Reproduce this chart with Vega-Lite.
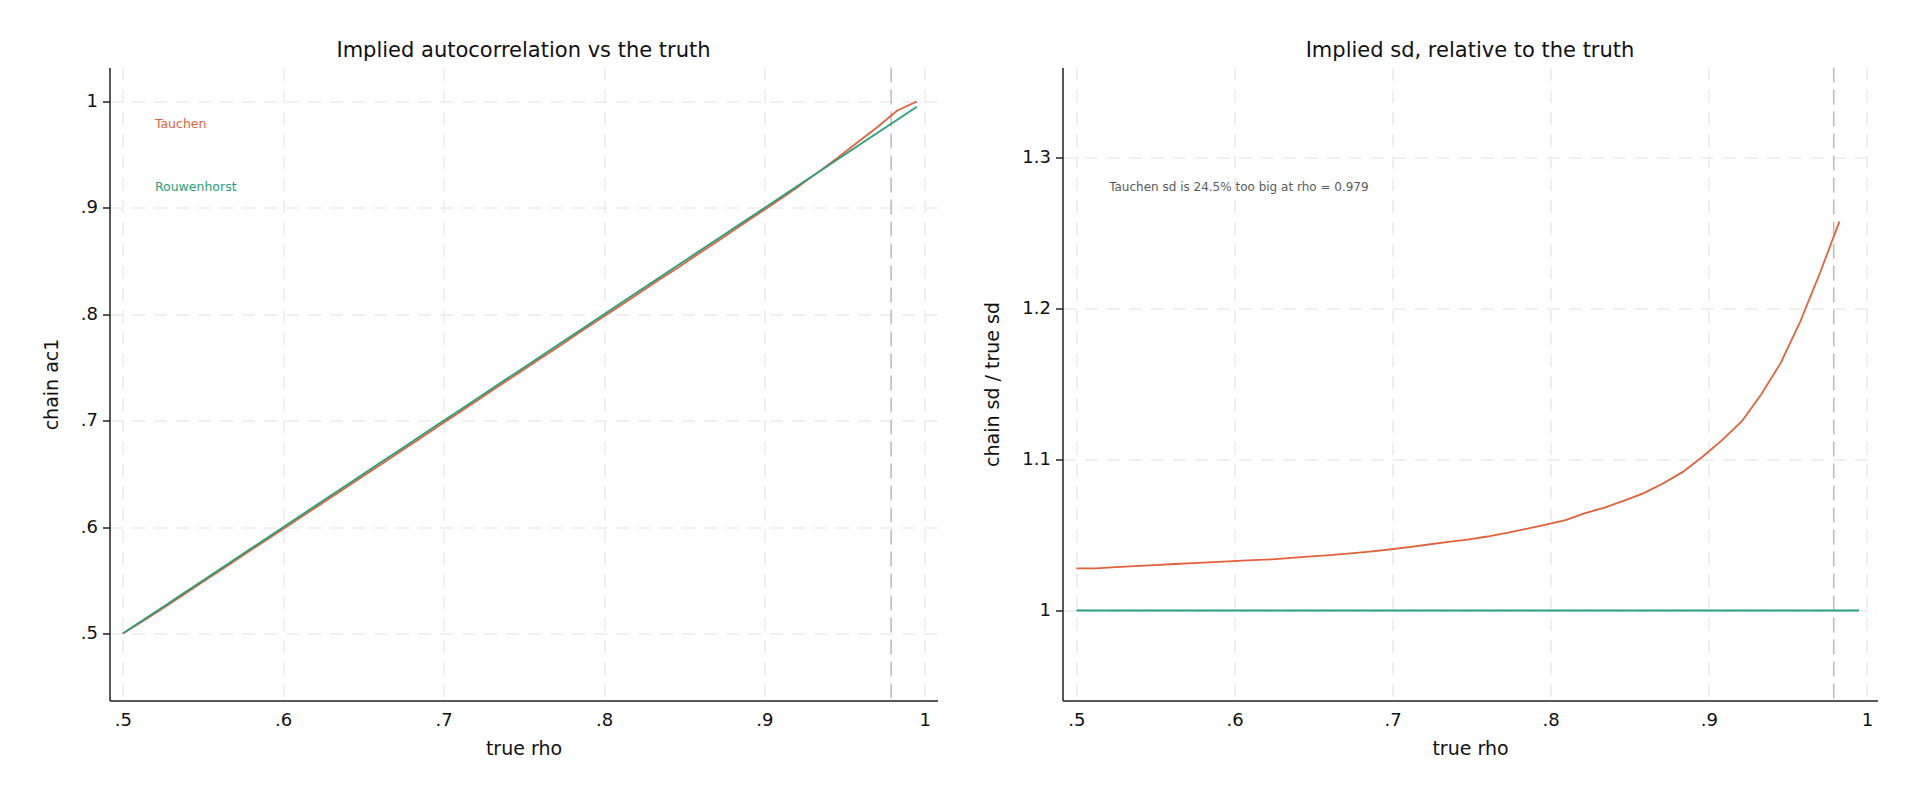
{
  "$schema": "https://vega.github.io/schema/vega-lite/v6.json",
  "background": "white",
  "padding": {"left": 41.5, "top": 39.5, "right": 5, "bottom": 5},
  "spacing": 46,
  "datasets": {
    "chain": [
      {"rho": 0.5, "method": "Tauchen", "ac1": 0.5, "sdratio": 1.0279},
      {"rho": 0.5124, "method": "Tauchen", "ac1": 0.5115, "sdratio": 1.0279},
      {"rho": 0.5248, "method": "Tauchen", "ac1": 0.5235, "sdratio": 1.0287},
      {"rho": 0.5371, "method": "Tauchen", "ac1": 0.5358, "sdratio": 1.0294},
      {"rho": 0.5495, "method": "Tauchen", "ac1": 0.5482, "sdratio": 1.0301},
      {"rho": 0.5619, "method": "Tauchen", "ac1": 0.5605, "sdratio": 1.0308},
      {"rho": 0.5743, "method": "Tauchen", "ac1": 0.5728, "sdratio": 1.0314},
      {"rho": 0.5866, "method": "Tauchen", "ac1": 0.5851, "sdratio": 1.032},
      {"rho": 0.599, "method": "Tauchen", "ac1": 0.5973, "sdratio": 1.0327},
      {"rho": 0.6114, "method": "Tauchen", "ac1": 0.6097, "sdratio": 1.0333},
      {"rho": 0.6238, "method": "Tauchen", "ac1": 0.6219, "sdratio": 1.0339},
      {"rho": 0.6361, "method": "Tauchen", "ac1": 0.6343, "sdratio": 1.0348},
      {"rho": 0.6485, "method": "Tauchen", "ac1": 0.6466, "sdratio": 1.0358},
      {"rho": 0.6609, "method": "Tauchen", "ac1": 0.6589, "sdratio": 1.0367},
      {"rho": 0.6733, "method": "Tauchen", "ac1": 0.6714, "sdratio": 1.0378},
      {"rho": 0.6856, "method": "Tauchen", "ac1": 0.6836, "sdratio": 1.039},
      {"rho": 0.698, "method": "Tauchen", "ac1": 0.6961, "sdratio": 1.0404},
      {"rho": 0.7104, "method": "Tauchen", "ac1": 0.7085, "sdratio": 1.042},
      {"rho": 0.7228, "method": "Tauchen", "ac1": 0.7208, "sdratio": 1.0437},
      {"rho": 0.7351, "method": "Tauchen", "ac1": 0.7333, "sdratio": 1.0454},
      {"rho": 0.7475, "method": "Tauchen", "ac1": 0.7455, "sdratio": 1.0469},
      {"rho": 0.7599, "method": "Tauchen", "ac1": 0.7579, "sdratio": 1.049},
      {"rho": 0.7723, "method": "Tauchen", "ac1": 0.7702, "sdratio": 1.0514},
      {"rho": 0.7846, "method": "Tauchen", "ac1": 0.7828, "sdratio": 1.0541},
      {"rho": 0.797, "method": "Tauchen", "ac1": 0.795, "sdratio": 1.0569},
      {"rho": 0.8094, "method": "Tauchen", "ac1": 0.8073, "sdratio": 1.0598},
      {"rho": 0.8218, "method": "Tauchen", "ac1": 0.8197, "sdratio": 1.0645},
      {"rho": 0.8341, "method": "Tauchen", "ac1": 0.8322, "sdratio": 1.0682},
      {"rho": 0.8465, "method": "Tauchen", "ac1": 0.8442, "sdratio": 1.0728},
      {"rho": 0.8589, "method": "Tauchen", "ac1": 0.8569, "sdratio": 1.0777},
      {"rho": 0.8713, "method": "Tauchen", "ac1": 0.8692, "sdratio": 1.0843},
      {"rho": 0.8836, "method": "Tauchen", "ac1": 0.8818, "sdratio": 1.0918},
      {"rho": 0.896, "method": "Tauchen", "ac1": 0.8942, "sdratio": 1.1018},
      {"rho": 0.9084, "method": "Tauchen", "ac1": 0.9068, "sdratio": 1.1128},
      {"rho": 0.9208, "method": "Tauchen", "ac1": 0.9197, "sdratio": 1.1252},
      {"rho": 0.9331, "method": "Tauchen", "ac1": 0.9331, "sdratio": 1.143},
      {"rho": 0.9455, "method": "Tauchen", "ac1": 0.9468, "sdratio": 1.164},
      {"rho": 0.9579, "method": "Tauchen", "ac1": 0.9615, "sdratio": 1.1915},
      {"rho": 0.9703, "method": "Tauchen", "ac1": 0.9758, "sdratio": 1.2235},
      {"rho": 0.9826, "method": "Tauchen", "ac1": 0.9913, "sdratio": 1.2575},
      {"rho": 0.995, "method": "Tauchen", "ac1": 1.0, "sdratio": null},
      {"rho": 0.5, "method": "Rouwenhorst", "ac1": 0.5, "sdratio": 1.0},
      {"rho": 0.5124, "method": "Rouwenhorst", "ac1": 0.5124, "sdratio": 1.0},
      {"rho": 0.5248, "method": "Rouwenhorst", "ac1": 0.5248, "sdratio": 1.0},
      {"rho": 0.5371, "method": "Rouwenhorst", "ac1": 0.5371, "sdratio": 1.0},
      {"rho": 0.5495, "method": "Rouwenhorst", "ac1": 0.5495, "sdratio": 1.0},
      {"rho": 0.5619, "method": "Rouwenhorst", "ac1": 0.5619, "sdratio": 1.0},
      {"rho": 0.5743, "method": "Rouwenhorst", "ac1": 0.5743, "sdratio": 1.0},
      {"rho": 0.5866, "method": "Rouwenhorst", "ac1": 0.5866, "sdratio": 1.0},
      {"rho": 0.599, "method": "Rouwenhorst", "ac1": 0.599, "sdratio": 1.0},
      {"rho": 0.6114, "method": "Rouwenhorst", "ac1": 0.6114, "sdratio": 1.0},
      {"rho": 0.6238, "method": "Rouwenhorst", "ac1": 0.6238, "sdratio": 1.0},
      {"rho": 0.6361, "method": "Rouwenhorst", "ac1": 0.6361, "sdratio": 1.0},
      {"rho": 0.6485, "method": "Rouwenhorst", "ac1": 0.6485, "sdratio": 1.0},
      {"rho": 0.6609, "method": "Rouwenhorst", "ac1": 0.6609, "sdratio": 1.0},
      {"rho": 0.6733, "method": "Rouwenhorst", "ac1": 0.6733, "sdratio": 1.0},
      {"rho": 0.6856, "method": "Rouwenhorst", "ac1": 0.6856, "sdratio": 1.0},
      {"rho": 0.698, "method": "Rouwenhorst", "ac1": 0.698, "sdratio": 1.0},
      {"rho": 0.7104, "method": "Rouwenhorst", "ac1": 0.7104, "sdratio": 1.0},
      {"rho": 0.7228, "method": "Rouwenhorst", "ac1": 0.7228, "sdratio": 1.0},
      {"rho": 0.7351, "method": "Rouwenhorst", "ac1": 0.7351, "sdratio": 1.0},
      {"rho": 0.7475, "method": "Rouwenhorst", "ac1": 0.7475, "sdratio": 1.0},
      {"rho": 0.7599, "method": "Rouwenhorst", "ac1": 0.7599, "sdratio": 1.0},
      {"rho": 0.7723, "method": "Rouwenhorst", "ac1": 0.7723, "sdratio": 1.0},
      {"rho": 0.7846, "method": "Rouwenhorst", "ac1": 0.7846, "sdratio": 1.0},
      {"rho": 0.797, "method": "Rouwenhorst", "ac1": 0.797, "sdratio": 1.0},
      {"rho": 0.8094, "method": "Rouwenhorst", "ac1": 0.8094, "sdratio": 1.0},
      {"rho": 0.8218, "method": "Rouwenhorst", "ac1": 0.8218, "sdratio": 1.0},
      {"rho": 0.8341, "method": "Rouwenhorst", "ac1": 0.8341, "sdratio": 1.0},
      {"rho": 0.8465, "method": "Rouwenhorst", "ac1": 0.8465, "sdratio": 1.0},
      {"rho": 0.8589, "method": "Rouwenhorst", "ac1": 0.8589, "sdratio": 1.0},
      {"rho": 0.8713, "method": "Rouwenhorst", "ac1": 0.8713, "sdratio": 1.0},
      {"rho": 0.8836, "method": "Rouwenhorst", "ac1": 0.8836, "sdratio": 1.0},
      {"rho": 0.896, "method": "Rouwenhorst", "ac1": 0.896, "sdratio": 1.0},
      {"rho": 0.9084, "method": "Rouwenhorst", "ac1": 0.9084, "sdratio": 1.0},
      {"rho": 0.9208, "method": "Rouwenhorst", "ac1": 0.9208, "sdratio": 1.0},
      {"rho": 0.9331, "method": "Rouwenhorst", "ac1": 0.9331, "sdratio": 1.0},
      {"rho": 0.9455, "method": "Rouwenhorst", "ac1": 0.9455, "sdratio": 1.0},
      {"rho": 0.9579, "method": "Rouwenhorst", "ac1": 0.9579, "sdratio": 1.0},
      {"rho": 0.9703, "method": "Rouwenhorst", "ac1": 0.9703, "sdratio": 1.0},
      {"rho": 0.9826, "method": "Rouwenhorst", "ac1": 0.9826, "sdratio": 1.0},
      {"rho": 0.995, "method": "Rouwenhorst", "ac1": 0.995, "sdratio": 1.0}
    ],
    "refline": [{"rho": 0.979}],
    "leftlabels": [
      {"x": 0.52, "y": 0.979, "label": "Tauchen", "method": "Tauchen"},
      {"x": 0.52, "y": 0.9195, "label": "Rouwenhorst", "method": "Rouwenhorst"}
    ],
    "note": [{"x": 0.5207, "y": 1.2803, "label": "Tauchen sd is 24.5% too big at rho = 0.979"}]
  },
  "hconcat": [
    {
      "title": "Implied autocorrelation vs the truth",
      "width": 828,
      "height": 633,
      "layer": [
        {
          "data": {"name": "refline"},
          "mark": {"type": "rule", "color": "#bbbbbb", "strokeWidth": 1.5, "strokeDash": [15, 7]},
          "encoding": {
            "x": {"field": "rho", "type": "quantitative"}
          }
        },
        {
          "data": {"name": "chain"},
          "mark": {"type": "line", "strokeWidth": 1.8},
          "encoding": {
            "x": {
              "field": "rho", "type": "quantitative", "title": "true rho",
              "scale": {"domain": [0.4917, 1.0079], "nice": false, "zero": false},
              "axis": {"values": [0.5, 0.6, 0.7, 0.8, 0.9, 1], "labelExpr": "datum.value == 1 ? '1' : replace(format(datum.value, '.1f'), '0.', '.')"}
            },
            "y": {
              "field": "ac1", "type": "quantitative", "title": "chain ac1",
              "scale": {"domain": [0.4371, 1.0319], "nice": false, "zero": false},
              "axis": {"values": [0.5, 0.6, 0.7, 0.8, 0.9, 1], "labelExpr": "datum.value == 1 ? '1' : replace(format(datum.value, '.1f'), '0.', '.')"}
            },
            "color": {
              "field": "method", "type": "nominal", "legend": null,
              "scale": {"domain": ["Tauchen", "Rouwenhorst"], "range": ["#e0623b", "#27a07a"]}
            },
            "order": {"field": "rho", "type": "quantitative"}
          }
        },
        {
          "data": {"name": "leftlabels"},
          "mark": {"type": "text", "align": "left", "baseline": "middle", "fontSize": 12.5},
          "encoding": {
            "x": {"field": "x", "type": "quantitative"},
            "y": {"field": "y", "type": "quantitative"},
            "text": {"field": "label"},
            "color": {"field": "method", "type": "nominal", "legend": null}
          }
        }
      ]
    },
    {
      "title": "Implied sd, relative to the truth",
      "width": 815,
      "height": 633,
      "layer": [
        {
          "data": {"name": "refline"},
          "mark": {"type": "rule", "color": "#bbbbbb", "strokeWidth": 1.5, "strokeDash": [15, 7]},
          "encoding": {
            "x": {"field": "rho", "type": "quantitative"}
          }
        },
        {
          "data": {"name": "chain"},
          "mark": {"type": "line", "strokeWidth": 1.8},
          "encoding": {
            "x": {
              "field": "rho", "type": "quantitative", "title": "true rho",
              "scale": {"domain": [0.4912, 1.0067], "nice": false, "zero": false},
              "axis": {"values": [0.5, 0.6, 0.7, 0.8, 0.9, 1], "labelExpr": "datum.value == 1 ? '1' : replace(format(datum.value, '.1f'), '0.', '.')"}
            },
            "y": {
              "field": "sdratio", "type": "quantitative", "title": "chain sd / true sd",
              "scale": {"domain": [0.9404, 1.3596], "nice": false, "zero": false},
              "axis": {"values": [1, 1.1, 1.2, 1.3], "labelExpr": "datum.value == 1 ? '1' : format(datum.value, '.1f')"}
            },
            "color": {
              "field": "method", "type": "nominal", "legend": null,
              "scale": {"domain": ["Tauchen", "Rouwenhorst"], "range": ["#e0623b", "#27a07a"]}
            },
            "order": {"field": "rho", "type": "quantitative"}
          }
        },
        {
          "data": {"name": "note"},
          "mark": {"type": "text", "align": "left", "baseline": "middle", "fontSize": 12, "color": "#5a5a5a"},
          "encoding": {
            "x": {"field": "x", "type": "quantitative"},
            "y": {"field": "y", "type": "quantitative"},
            "text": {"field": "label"}
          }
        }
      ]
    }
  ],
  "config": {
    "font": "DejaVu Sans",
    "view": {"stroke": null},
    "title": {"fontSize": 21, "fontWeight": "normal", "color": "#111111", "offset": 5.5, "font": "DejaVu Sans"},
    "axis": {
      "labelFontSize": 18,
      "labelColor": "#111111",
      "titleFontSize": 19,
      "titleFontWeight": "normal",
      "titleColor": "#111111",
      "domainColor": "#222222",
      "domainWidth": 1.5,
      "grid": true,
      "gridColor": "#ebebeb",
      "gridWidth": 1.5,
      "gridDash": [13, 9]
    },
    "axisX": {"ticks": false, "labelPadding": 11, "titlePadding": 10},
    "axisY": {"ticks": true, "tickSize": 7, "tickColor": "#222222", "tickWidth": 1.5, "labelPadding": 5, "titlePadding": 19}
  }
}
